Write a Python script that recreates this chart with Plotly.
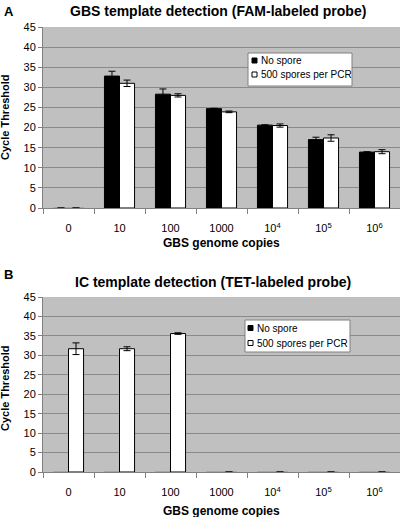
import plotly.graph_objects as go

categories = ["0", "10", "100", "1000", "10<sup>4</sup>", "10<sup>5</sup>", "10<sup>6</sup>"]

# Panel A: GBS template detection (FAM-labeled probe)
a_no_spore = [0, 32.8, 28.3, 24.7, 20.6, 17.0, 13.9]
a_no_spore_err = [0, 1.2, 1.3, 0.1, 0.1, 0.6, 0.1]
a_spores = [0, 31.0, 28.0, 23.9, 20.5, 17.4, 14.0]
a_spores_err = [0, 0.8, 0.4, 0.2, 0.4, 0.8, 0.5]

# Panel B: IC template detection (TET-labeled probe)
b_no_spore = [0, 0, 0, 0, 0, 0, 0]
b_spores = [31.7, 31.7, 35.6, 0, 0, 0, 0]
b_spores_err = [1.5, 0.5, 0.2, 0, 0, 0, 0]

series_names = ["No spore", "500 spores per PCR"]
series_colors = ["black", "white"]
title_a = "GBS template detection (FAM-labeled probe)"
title_b = "IC template detection (TET-labeled probe)"
y_title = "Cycle Threshold"
x_title = "GBS genome copies"

FONT = "Liberation Sans, Arial, sans-serif"
BG = "#c0c0c0"
GRID = "#8a8a8a"
AXIS = "#808080"
ZERO_EDGE = "#9a9a9a"

L, R, T, B = 43, 0, 27, 45
W, H = 400, 517
pw = W - L - R
ph = H - T - B


def px_x(x):
    return (x - L) / pw


def px_y(y):
    return (H - B - y) / ph


def ydom(top_px, bottom_px):
    return [px_y(bottom_px), px_y(top_px)]


fig = go.Figure()


def edge_colors(vals):
    return ["black" if v > 0 else ZERO_EDGE for v in vals]


def add_bars(xa, ya, nos, nos_err, sp, sp_err):
    fig.add_trace(go.Bar(
        x=categories, y=nos, name=series_names[0], xaxis=xa, yaxis=ya, showlegend=False,
        marker=dict(color=series_colors[0], line=dict(color=edge_colors(nos), width=1)),
        error_y=dict(type="data", array=nos_err if nos_err else [0] * len(nos),
                     color="black", thickness=1, width=3.5, visible=nos_err is not None),
    ))
    fig.add_trace(go.Bar(
        x=categories, y=sp, name=series_names[1], xaxis=xa, yaxis=ya, showlegend=False,
        marker=dict(color=series_colors[1], line=dict(color=edge_colors(sp), width=1)),
        error_y=dict(type="data", array=sp_err, color="black", thickness=1, width=3.5),
    ))


add_bars("x", "y", a_no_spore, a_no_spore_err, a_spores, a_spores_err)
add_bars("x2", "y2", b_no_spore, None, b_spores, b_spores_err)

xcommon = dict(type="category", showgrid=False, showline=True, linecolor=AXIS, linewidth=1,
               ticks="outside", tickson="boundaries", ticklen=5, tickcolor=AXIS,
               tickfont=dict(family=FONT, size=11, color="black"), ticklabelstandoff=10,
               zeroline=False, fixedrange=True)
ycommon = dict(range=[0, 45], dtick=5, showgrid=True, gridcolor=GRID, gridwidth=1,
               showline=True, linecolor=AXIS, linewidth=1, ticks="outside", ticklen=4,
               tickcolor=AXIS, tickfont=dict(family=FONT, size=11, color="black"),
               zeroline=False, fixedrange=True)

fig.update_layout(
    width=W, height=H,
    margin=dict(l=L, r=R, t=T, b=B),
    paper_bgcolor="white", plot_bgcolor=BG,
    barmode="group", bargap=0.41, bargroupgap=0.0,
    font=dict(family=FONT, color="black"),
    xaxis=dict(domain=[0, 1], anchor="y", **xcommon),
    yaxis=dict(domain=ydom(27, 208), anchor="x", **ycommon),
    xaxis2=dict(domain=[0, 1], anchor="y2", **xcommon),
    yaxis2=dict(domain=ydom(297, 472), anchor="x2", **ycommon),
    showlegend=False,
)

texts = [
    ("<b>A</b>", 2, 2, "left", "top", 13, 0),
    ("<b>B</b>", 2, 265, "left", "top", 13, 0),
    ("<b>" + title_a + "</b>", 218, 11, "center", "middle", 14, 0),
    ("<b>" + title_b + "</b>", 213, 282, "center", "middle", 14, 0),
    ("<b>" + x_title + "</b>", 221, 243, "center", "middle", 12, 0),
    ("<b>" + x_title + "</b>", 221, 511, "center", "middle", 12, 0),
    ("<b>" + y_title + "</b>", 5, 117, "center", "middle", 11, -90),
    ("<b>" + y_title + "</b>", 5, 388, "center", "middle", 11, -90),
]
for t, x, y, xa, ya, s, ang in texts:
    fig.add_annotation(text=t, xref="paper", yref="paper", x=px_x(x), y=px_y(y),
                       xanchor=xa, yanchor=ya, showarrow=False, textangle=ang,
                       font=dict(family=FONT, size=s, color="black"))

# legends (box, swatches, labels) in pixel layout converted to paper coordinates
legends = [
    dict(box=(248, 53, 352, 86), sq_x=252, rows=(60.5, 74.5), text_x=259),
    dict(box=(245, 320, 350, 352), sq_x=248, rows=(328, 343), text_x=255),
]
for lg in legends:
    x0, y0, x1, y1 = lg["box"]
    fig.add_shape(type="rect", xref="paper", yref="paper",
                  x0=px_x(x0), x1=px_x(x1), y0=px_y(y1), y1=px_y(y0),
                  fillcolor="white", line=dict(color="#808080", width=1), layer="above")
    for i, ry in enumerate(lg["rows"]):
        sx = lg["sq_x"]
        fig.add_shape(type="rect", xref="paper", yref="paper",
                      x0=px_x(sx), x1=px_x(sx + 5), y0=px_y(ry + 2.5), y1=px_y(ry - 2.5),
                      fillcolor=series_colors[i], line=dict(color="black", width=1), layer="above")
        fig.add_annotation(text=series_names[i], xref="paper", yref="paper",
                           x=px_x(lg["text_x"]), y=px_y(ry), xanchor="left", yanchor="middle",
                           showarrow=False, font=dict(family=FONT, size=10, color="black"))

fig.write_html("out.html", config={"displayModeBar": False, "staticPlot": True},
               post_script="document.body.style.margin='0';")
